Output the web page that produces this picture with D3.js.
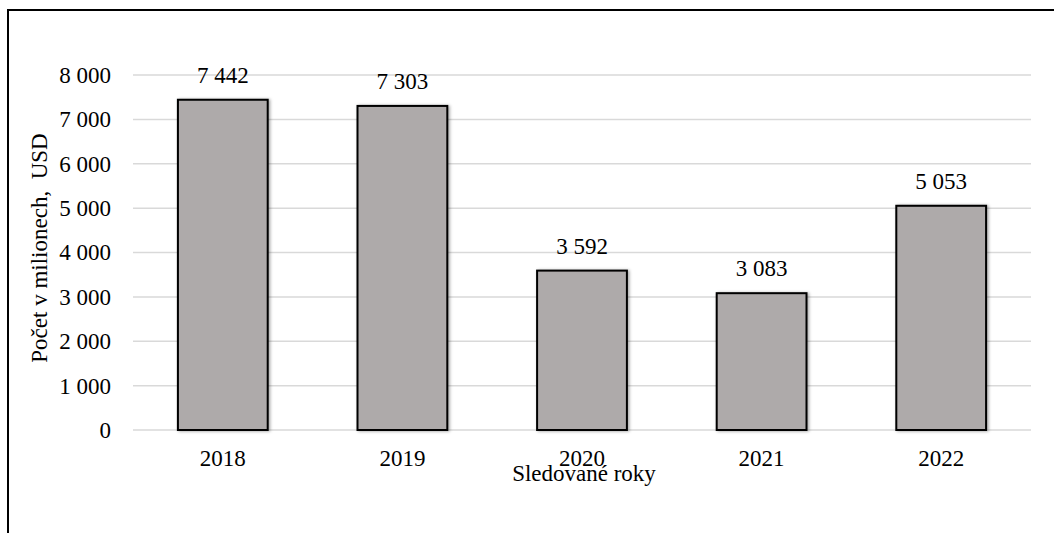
<!DOCTYPE html>
<html><head><meta charset="utf-8">
<script src="https://cdn.jsdelivr.net/npm/d3@7"></script>
<style>html,body{margin:0;padding:0;background:#fff;overflow:hidden}svg{display:block}</style>
</head><body><svg id="c" width="1054" height="533"></svg>
<script>
const years = ["2018","2019","2020","2021","2022"];
const values = [7442, 7303, 3592, 3083, 5053];
const yTicks = [0,1000,2000,3000,4000,5000,6000,7000,8000];
const yTitle = "Počet v milionech,  USD";
const xTitle = "Sledované roky";

const svg = d3.select("#c");
const fmt = v => d3.format(",")(v).replace(/,/g, "\u00a0");
const FF = "'Liberation Serif', 'Times New Roman', serif";
const styleText = s => s.style("font-family", FF).style("font-size", "23px").style("fill", "#000");

const defs = svg.append("defs");
const f = defs.append("filter").attr("id","sh").attr("x","-20%").attr("y","-20%").attr("width","140%").attr("height","140%");
f.append("feDropShadow").attr("dx",1.5).attr("dy",0.5).attr("stdDeviation",1.5).attr("flood-color","#000").attr("flood-opacity",0.35);

// frame
svg.append("rect").attr("x",8).attr("y",10).attr("width",1100).attr("height",600)
  .attr("fill","none").attr("stroke","#000").attr("stroke-width",2);

const x = d3.scaleBand().domain(years).range([133,1031]).paddingInner(0.5).paddingOuter(0.25);
const y = d3.scaleLinear().domain([0,8000]).range([430,75]);

// gridlines
svg.append("g").selectAll("line").data(yTicks).join("line")
  .attr("x1",133).attr("x2",1031)
  .attr("y1",d=>y(d)).attr("y2",d=>y(d))
  .attr("stroke","#d9d9d9").attr("stroke-width",1.5);

// y axis labels
const ya = svg.append("g").attr("transform","translate(111,0)")
  .call(d3.axisLeft(y).tickValues(yTicks).tickFormat(fmt).tickSize(0).tickPadding(0));
ya.select(".domain").remove();
styleText(ya.selectAll("text"));

// bars
svg.append("g").selectAll("rect").data(values).join("rect")
  .attr("x",(d,i)=>x(years[i])).attr("width",x.bandwidth())
  .attr("y",d=>y(d)).attr("height",d=>y(0)-y(d))
  .attr("fill","#aeaaaa").attr("stroke","#000").attr("stroke-width",2)
  .attr("filter","url(#sh)");

// value labels
styleText(svg.append("g").selectAll("text").data(values).join("text")
  .attr("x",(d,i)=>x(years[i])+x.bandwidth()/2).attr("y",d=>y(d)-17)
  .attr("text-anchor","middle")
  .text(fmt));

// x axis labels
const xa = svg.append("g").attr("transform","translate(0,430)")
  .call(d3.axisBottom(x).tickSize(0).tickPadding(20));
xa.select(".domain").remove();
styleText(xa.selectAll("text"));

// titles
styleText(svg.append("text").attr("x",584).attr("y",481).attr("text-anchor","middle").text(xTitle));
styleText(svg.append("text").attr("transform","translate(47,248) rotate(-90)").attr("text-anchor","middle")
  .style("white-space","pre").text(yTitle));
</script></body></html>
